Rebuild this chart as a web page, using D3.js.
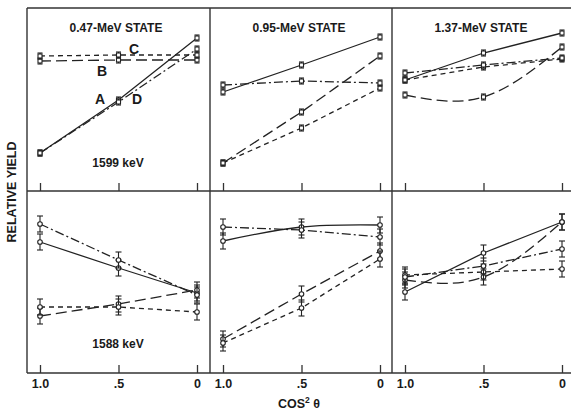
<!DOCTYPE html>
<html><head><meta charset="utf-8">
<script src="https://cdn.jsdelivr.net/npm/d3@7"></script>
<style>body{margin:0;background:#fff}svg{display:block}text{font-family:"Liberation Sans",Arial,sans-serif;fill:#1a1a1a;font-weight:bold}</style>
</head><body>
<script>
// x values: cos^2(theta)
const cos2 = [1.0, 0.5, 0.0];
const tickLabels = ["1.0", ".5", "0"];
const panelTitles = ["0.47-MeV STATE", "0.95-MeV STATE", "1.37-MeV STATE"];
const rowLabels = ["1599 keV", "1588 keV"];
const seriesKinds = ["solid", "longdash", "shortdash", "dashdot"];

// Relative yield (arbitrary units) for each panel [row][col], one array per series
// Top row (1599 keV)
const top047 = { solid: [38, 91, 153], longdash: [130, 131, 131], shortdash: [135, 136, 136], dashdot: [38, 89, 142] };
const top095 = { solid: [99, 126, 154], longdash: [28, 79, 135], shortdash: [28, 63, 103], dashdot: [106, 110, 108] };
const top137 = { solid: [111, 138, 158], longdash: [96, 94, 144], shortdash: [111, 124, 132], dashdot: [118, 126, 133] };
// Bottom row (1588 keV)
const bot047 = { solid: [131, 105, 80], longdash: [57, 69, 83], shortdash: [66, 66, 61], dashdot: [149, 113, 78] };
const bot095 = { solid: [132, 146, 148], longdash: [34, 79, 122], shortdash: [30, 65, 114], dashdot: [146, 143, 136] };
const bot137 = { solid: [81, 120, 151], longdash: [93, 96, 151], shortdash: [98, 101, 104], dashdot: [96, 107, 124] };
// error half-widths
const topErr = [3, 3, 3];
const botErr = [8, 8, 8];

const W = 571, H = 411;
const svg = d3.select("body").append("svg").attr("width", W).attr("height", H);

const colLeft = [27, 210, 392];
const rows = [{top: 8, bottom: 191}, {top: 191, bottom: 373}];
const data = [[top047, top095, top137], [bot047, bot095, bot137]];
const errs = [topErr, botErr];

const dash = { solid: null, longdash: "11,5", shortdash: "5,4", dashdot: "9,3,2,3" };
const curved = { "0-2-longdash": true, "1-1-solid": true, "1-2-longdash": true };

// frame
const frame = svg.append("g").attr("stroke", "#333").attr("stroke-width", 1.4).attr("fill", "none");
frame.append("line").attr("x1", 27).attr("x2", 27).attr("y1", 8).attr("y2", 373);
frame.append("line").attr("x1", 27).attr("x2", W).attr("y1", 8).attr("y2", 8);
frame.append("line").attr("x1", 27).attr("x2", W).attr("y1", 191).attr("y2", 191);
frame.append("line").attr("x1", 27).attr("x2", W).attr("y1", 373).attr("y2", 373);
[210, 392].forEach(x => frame.append("line").attr("x1", x).attr("x2", x).attr("y1", 8).attr("y2", 373));

rows.forEach((row, r) => {
  colLeft.forEach((left, c) => {
    const x = d3.scaleLinear().domain([1, 0]).range([left + 13, left + 170]);
    const y = d3.scaleLinear().domain([0, row.bottom - row.top]).range([row.bottom, row.top]);
    const g = svg.append("g");
    const ax = d3.axisBottom(x).tickValues(cos2).tickSize(-8).tickFormat("");
    const axg = g.append("g").attr("transform", `translate(0,${row.bottom})`).call(ax);
    axg.select(".domain").remove();
    axg.selectAll("line").attr("stroke", "#333").attr("stroke-width", 1.3);
    if (r === 1) {
      const lab = d3.axisBottom(x).tickValues(cos2).tickSize(0).tickPadding(6)
        .tickFormat((d, i) => tickLabels[i]);
      const lg = g.append("g").attr("transform", `translate(0,${row.bottom})`).call(lab);
      lg.select(".domain").remove();
      lg.selectAll("text").attr("font-size", 12.5).attr("fill", "#1a1a1a").attr("font-weight", "bold")
        .attr("font-family", "Liberation Sans, Arial, sans-serif");
    }
    const set = data[r][c];
    seriesKinds.forEach(k => {
      const vals = set[k];
      const pts = cos2.map((cv, i) => [cv, vals[i]]);
      const key = `${r}-${c}-${k}`;
      const line = d3.line().x(d => x(d[0])).y(d => y(d[1]))
        .curve(curved[key] ? d3.curveNatural : d3.curveLinear);
      g.append("path").attr("d", line(pts)).attr("fill", "none")
        .attr("stroke", "#222").attr("stroke-width", 1.3)
        .attr("stroke-dasharray", dash[k]);
      pts.forEach((p, i) => {
        const e = errs[r][i];
        const cx = x(p[0]), cy = y(p[1]);
        const eg = g.append("g").attr("stroke", "#222").attr("stroke-width", 1.1).attr("fill", "#fff");
        eg.append("line").attr("x1", cx).attr("x2", cx).attr("y1", y(p[1] - e)).attr("y2", y(p[1] + e));
        const cw = r === 0 ? 2.5 : 3;
        eg.append("line").attr("x1", cx - cw).attr("x2", cx + cw).attr("y1", y(p[1] - e)).attr("y2", y(p[1] - e));
        eg.append("line").attr("x1", cx - cw).attr("x2", cx + cw).attr("y1", y(p[1] + e)).attr("y2", y(p[1] + e));
        if (r === 0) {
          eg.append("rect").attr("x", cx - 2).attr("y", cy - 2).attr("width", 4).attr("height", 4);
        } else {
          eg.append("circle").attr("cx", cx).attr("cy", cy).attr("r", 2.3);
        }
      });
    });
    if (r === 0) {
      g.append("text").attr("x", left + 89).attr("y", 32).attr("text-anchor", "middle")
        .attr("font-size", 12).text(panelTitles[c]);
    }
    if (c === 0) {
      g.append("text").attr("x", 118).attr("y", r === 0 ? 167 : 348).attr("text-anchor", "middle")
        .attr("font-size", 12).text(rowLabels[r]);
    }
  });
});

// curve letters in first panel
const letters = [["A", 100, 104], ["D", 137, 104], ["B", 102, 76], ["C", 134, 54]];
letters.forEach(l => svg.append("text").attr("x", l[1]).attr("y", l[2]).attr("text-anchor", "middle")
  .attr("font-size", 14).attr("font-weight", "normal").text(l[0]));

// axis titles
svg.append("text").attr("x", 299).attr("y", 408).attr("text-anchor", "middle").attr("font-size", 12.5)
  .html('COS<tspan dy="-5" font-size="8.5">2</tspan><tspan dy="5"> θ</tspan>');
svg.append("text").attr("transform", "translate(16,192) rotate(-90)").attr("text-anchor", "middle")
  .attr("font-size", 12.5).text("RELATIVE YIELD");
</script>
</body></html>
